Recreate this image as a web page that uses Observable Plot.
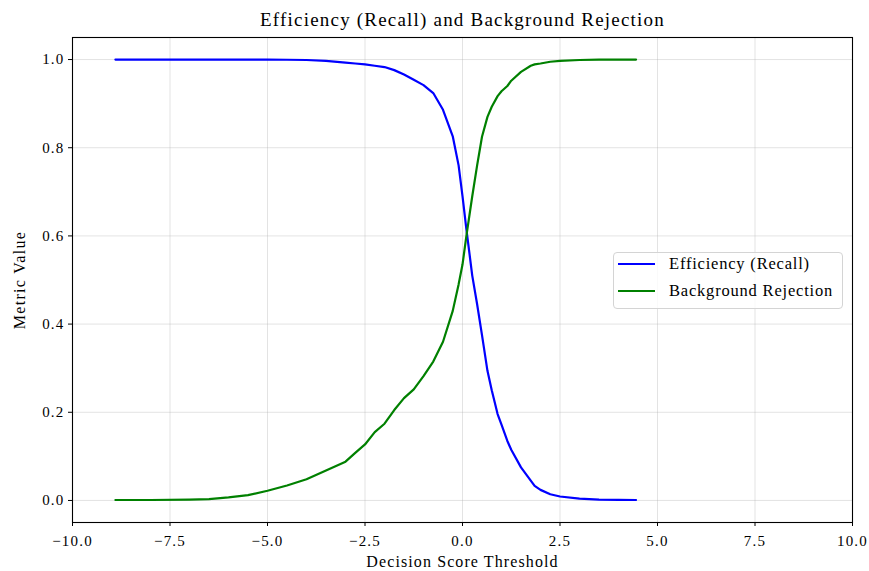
<!DOCTYPE html>
<html><head><meta charset="utf-8">
<script src="https://cdn.jsdelivr.net/npm/d3@7"></script>
<script src="https://cdn.jsdelivr.net/npm/@observablehq/plot@0.6"></script>
<style>
body{margin:0;background:#fff;}
#wrap{position:relative;width:869px;height:571px;}
.legend{position:absolute;left:613px;top:252px;width:230px;height:57px;border:1px solid #d4d4d4;border-radius:4px;background:rgba(255,255,255,0.8);box-sizing:border-box;font-family:"Liberation Serif",serif;font-size:16.5px;letter-spacing:0.8px;color:#000;}
.legend .row{position:absolute;left:4px;height:20px;display:flex;align-items:center;white-space:nowrap;}
.legend .sw{width:37px;height:0;border-top:2px solid;margin-right:14px;}
svg g[aria-label="x-axis tick label"] text, svg g[aria-label="y-axis tick label"] text{letter-spacing:1.2px;}
svg g[aria-label="x-axis label"] text{letter-spacing:1.1px;}
svg g[aria-label="y-axis label"] text{letter-spacing:1.3px;}
svg g[aria-label="text"] text{letter-spacing:1.2px;}
</style></head><body><div id="wrap"></div>
<script>
const title = "Efficiency (Recall) and Background Rejection";
const xLabel = "Decision Score Threshold";
const yLabel = "Metric Value";
const seriesNames = ["Efficiency (Recall)", "Background Rejection"];
const seriesColors = ["#0000ff", "#008000"];
const xTicks = [-10, -7.5, -5, -2.5, 0, 2.5, 5, 7.5, 10];
const yTicks = [0, 0.2, 0.4, 0.6, 0.8, 1.0];

const thresholds = [-8.9, -8, -7, -6.5, -6, -5.5, -5, -4.5, -4, -3.5, -3, -2.75, -2.5, -2.25, -2, -1.75, -1.5, -1.25, -1, -0.75, -0.5, -0.25, -0.1, 0, 0.1, 0.25, 0.375, 0.5, 0.64, 0.75, 0.9, 1, 1.15, 1.25, 1.5, 1.75, 1.85, 2, 2.25, 2.5, 3, 3.5, 4, 4.45];
const efficiency = [1.0, 1.0, 1.0, 1.0, 1.0, 1.0, 0.9998, 0.9995, 0.999, 0.997, 0.993, 0.991, 0.989, 0.986, 0.983, 0.976, 0.966, 0.954, 0.942, 0.924, 0.886, 0.826, 0.76, 0.69, 0.615, 0.51, 0.445, 0.375, 0.294, 0.25, 0.196, 0.172, 0.135, 0.115, 0.075, 0.045, 0.033, 0.024, 0.014, 0.009, 0.004, 0.002, 0.0012, 0.001];
const rejection = [0.001, 0.001, 0.002, 0.003, 0.007, 0.012, 0.022, 0.034, 0.048, 0.068, 0.088, 0.108, 0.127, 0.155, 0.174, 0.205, 0.232, 0.252, 0.282, 0.315, 0.36, 0.43, 0.49, 0.535, 0.60, 0.69, 0.76, 0.825, 0.87, 0.893, 0.917, 0.928, 0.94, 0.952, 0.972, 0.986, 0.989, 0.991, 0.995, 0.997, 0.999, 1.0, 1.0, 1.0];

const data = thresholds.flatMap((t, i) => [
  {t, v: efficiency[i], s: seriesNames[0]},
  {t, v: rejection[i], s: seriesNames[1]}
]);

const fmt = d3.format(".1f");
const plot = Plot.plot({
  width: 869, height: 571,
  marginLeft: 72, marginRight: 17, marginTop: 37, marginBottom: 49,
  style: {fontFamily: "'Liberation Serif', serif", fontSize: "15px", background: "white", color: "black", overflow: "visible"},
  x: {domain: [-10, 10]},
  y: {domain: [-0.05, 1.05]},
  color: {domain: seriesNames, range: seriesColors},
  marks: [
    Plot.gridX(xTicks, {stroke: "#b0b0b0", strokeOpacity: 0.35, strokeWidth: 1}),
    Plot.gridY(yTicks, {stroke: "#b0b0b0", strokeOpacity: 0.35, strokeWidth: 1}),
    Plot.line(data, {x: "t", y: "v", z: "s", stroke: "s", strokeWidth: 2.2, curve: "linear"}),
    Plot.frame({stroke: "black", strokeWidth: 1.1}),
    Plot.axisX(xTicks, {tickFormat: fmt, tickSize: 4, tickPadding: 9, fontSize: 15, label: null}),
    Plot.axisX({label: xLabel, labelAnchor: "center", labelArrow: "none", labelOffset: 44, ticks: [], fontSize: 16}),
    Plot.axisY(yTicks, {tickFormat: fmt, tickSize: 4, tickPadding: 4, fontSize: 15, label: null}),
    Plot.axisY({label: yLabel, labelAnchor: "center", labelArrow: "none", labelOffset: 59, ticks: [], fontSize: 16}),
    Plot.text([title], {frameAnchor: "top", lineAnchor: "middle", dy: -18, fontSize: 19})
  ]
});
const wrap = document.getElementById("wrap");
wrap.appendChild(plot);

const legend = document.createElement("div");
legend.className = "legend";
seriesNames.forEach((name, i) => {
  const row = document.createElement("div");
  row.className = "row";
  row.style.top = (1 + i * 27) + "px";
  const sw = document.createElement("span");
  sw.className = "sw";
  sw.style.borderTopColor = seriesColors[i];
  const tx = document.createElement("span");
  tx.textContent = name;
  row.appendChild(sw); row.appendChild(tx);
  legend.appendChild(row);
});
wrap.appendChild(legend);
</script>
</body></html>
